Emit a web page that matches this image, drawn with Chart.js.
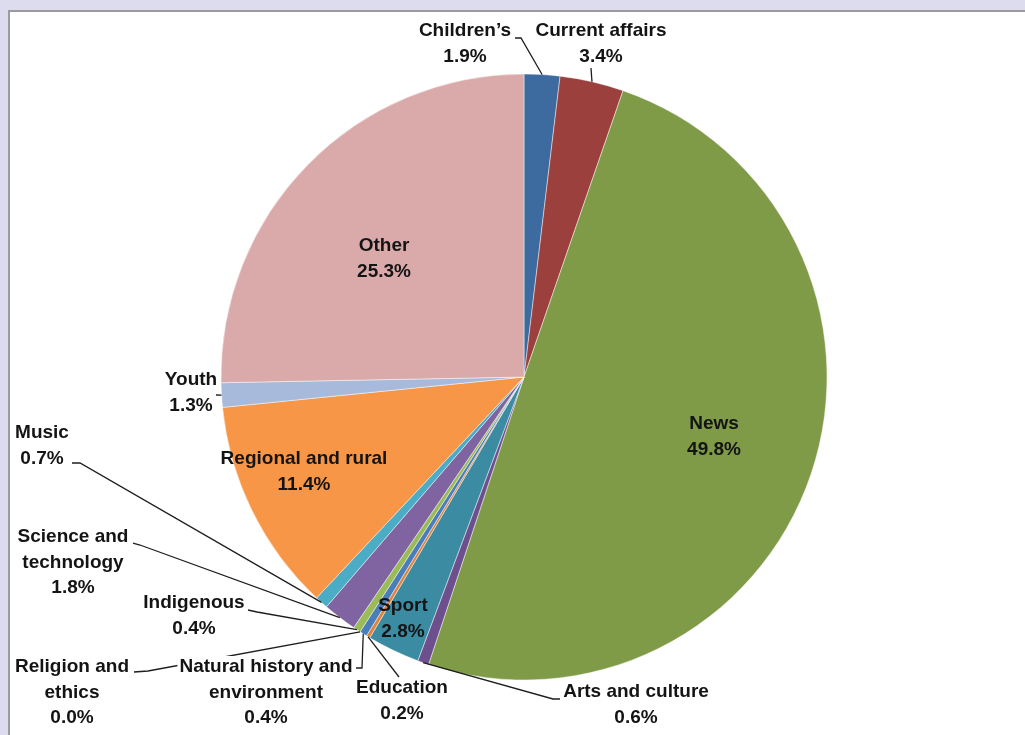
<!DOCTYPE html>
<html>
<head>
<meta charset="utf-8">
<script src="https://cdn.jsdelivr.net/npm/chart.js@4.4.0/dist/chart.umd.min.js"></script>
<style>
    body { margin: 0; background: #dcdcee; overflow: hidden; }
    #frame {
        position: absolute; left: 8px; top: 10px; width: 1017px; height: 725px;
        background: #fff; border-top: 2px solid #9a9aa0; border-left: 2px solid #9a9aa0;
    }
    #pie { position: absolute; left: 0; top: 0; }
</style>
</head>
<body>
<div id="frame"></div>
<canvas id="pie" width="1025" height="735"></canvas>
<script>
// genre shares, clockwise from 12 o'clock
const categories = ['Children’s', 'Current affairs', 'News', 'Arts and culture', 'Sport', 'Education',
    'Natural history and environment', 'Religion and ethics', 'Indigenous', 'Science and technology',
    'Music', 'Regional and rural', 'Youth', 'Other'];
const shares = [1.9, 3.4, 49.8, 0.6, 2.8, 0.2, 0.4, 0.0, 0.4, 1.8, 0.7, 11.4, 1.3, 25.3];
const nameLines = [['Children’s'], ['Current affairs'], ['News'], ['Arts and culture'], ['Sport'], ['Education'],
    ['Natural history and', 'environment'], ['Religion and', 'ethics'], ['Indigenous'], ['Science and', 'technology'],
    ['Music'], ['Regional and rural'], ['Youth'], ['Other']];
const sliceColors = ['#3d6a9f', '#9c403d', '#7f9b48', '#6e4f8e', '#3b8ca3', '#e0833a', '#4a7ebb',
    '#c0504d', '#9bbb59', '#8064a2', '#4bacc6', '#f79646', '#a8badb', '#d9aaa9'];

// where each label sits (centre of first line) and the bend points of its leader line
const labelSpots = [
    { x: 465, y: 31, lead: [[515, 38], [521, 38]] },
    { x: 601, y: 31, lead: [[591, 68]] },
    { x: 714, y: 424 },
    { x: 636, y: 692, lead: [[560, 699], [553, 699]] },
    { x: 403, y: 606 },
    { x: 402, y: 688, lead: [[399, 677]] },
    { x: 266, y: 667, lead: [[356, 668], [362, 668]], box: true },
    { x: 72, y: 667, lead: [[134, 672], [148, 671]] },
    { x: 194, y: 603, lead: [[248, 610], [257, 612]] },
    { x: 73, y: 537, lead: [[133, 543], [140, 545]] },
    { x: 42, y: 433, lead: [[72, 463], [80, 463]] },
    { x: 304, y: 459 },
    { x: 191, y: 380, lead: [[216, 395]] },
    { x: 384, y: 246 }
];

const LINE_H = 25.5;
const FONT = 'bold 19px "Liberation Sans", Arial, sans-serif';

const pieLabels = {
    id: 'pieLabels',
    afterDatasetsDraw(chart) {
        const ctx = chart.ctx;
        const arcs = chart.getDatasetMeta(0).data;
        ctx.save();
        ctx.font = FONT;
        ctx.textAlign = 'center';
        ctx.textBaseline = 'middle';

        // leader lines first so boxed labels can sit on top
        ctx.strokeStyle = '#1e1e1e';
        ctx.lineWidth = 1.3;
        arcs.forEach((arc, i) => {
            const spot = labelSpots[i];
            if (!spot.lead) return;
            const p = arc.getProps(['x', 'y', 'startAngle', 'endAngle', 'outerRadius'], true);
            const mid = (p.startAngle + p.endAngle) / 2;
            const ex = p.x + Math.cos(mid) * p.outerRadius;
            const ey = p.y + Math.sin(mid) * p.outerRadius;
            ctx.beginPath();
            ctx.moveTo(spot.lead[0][0], spot.lead[0][1]);
            spot.lead.slice(1).forEach(pt => ctx.lineTo(pt[0], pt[1]));
            ctx.lineTo(ex, ey);
            ctx.stroke();
        });

        arcs.forEach((arc, i) => {
            const spot = labelSpots[i];
            const lines = nameLines[i].concat([shares[i].toFixed(1) + '%']);
            if (spot.box) {
                ctx.fillStyle = '#fff';
                lines.forEach((t, k) => {
                    const w = ctx.measureText(t).width;
                    ctx.fillRect(spot.x - w / 2 - 2, spot.y + k * LINE_H - 11, w + 4, 22);
                });
            }
            ctx.fillStyle = '#141414';
            lines.forEach((t, k) => ctx.fillText(t, spot.x, spot.y + k * LINE_H));
        });
        ctx.restore();
    }
};

new Chart(document.getElementById('pie'), {
    type: 'pie',
    data: {
        labels: categories,
        datasets: [{
            data: shares,
            backgroundColor: sliceColors,
            borderColor: 'rgba(255,255,255,0.45)',
            borderWidth: 1,
            hoverOffset: 0
        }]
    },
    options: {
        responsive: false,
        animation: false,
        radius: 303,
        layout: { padding: { left: 221, right: 198, top: 74, bottom: 55 } },
        plugins: {
            legend: { display: false },
            tooltip: { enabled: false }
        }
    },
    plugins: [pieLabels]
});
</script>
</body>
</html>
